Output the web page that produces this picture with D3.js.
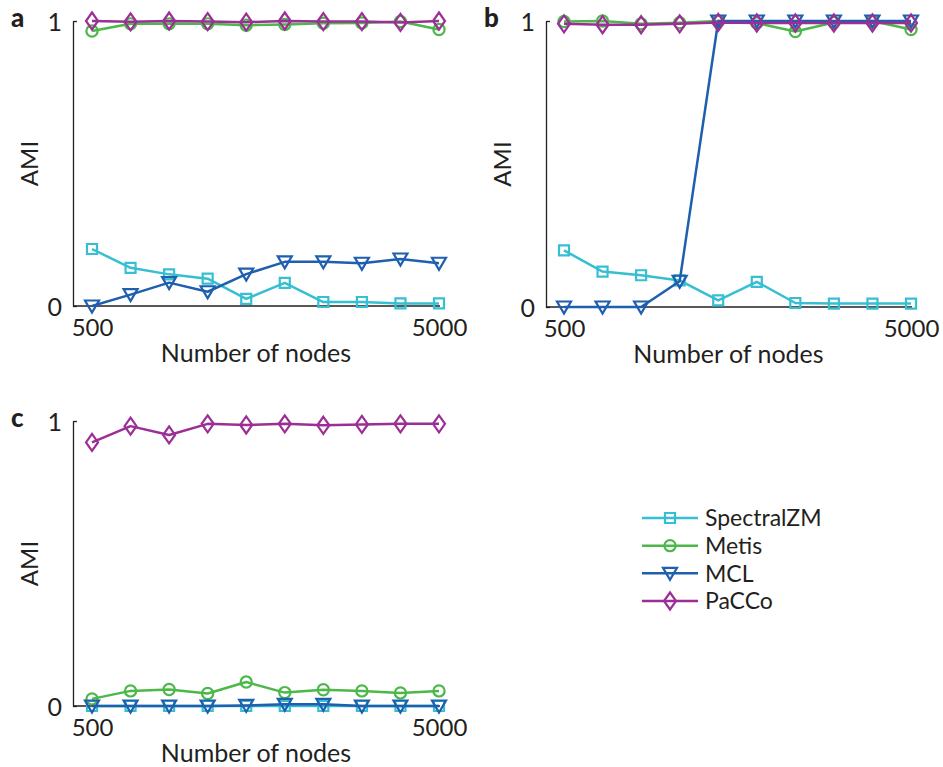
<!DOCTYPE html>
<html>
<head>
<meta charset="utf-8">
<script src="https://cdn.jsdelivr.net/npm/d3@7"></script>
<style>
  html, body { margin: 0; padding: 0; background: #fff; }
  svg text { font-family: Lato, "Open Sans", sans-serif; fill: #231f20; }
</style>
</head>
<body>
<svg id="chart" width="943" height="767"></svg>
<script>
// Network sizes on the x axis
const nodes = [500, 1000, 1500, 2000, 2500, 3000, 3500, 4000, 4500, 5000];
const methods = ["SpectralZM", "Metis", "MCL", "PaCCo"];
const colors = ["#36bfd3", "#4cb849", "#1e5fae", "#9b2f95"];
const symbols = ["square", "circle", "triangleDown", "diamond"];
const yTickLabels = ["0", "1"];
const xTickLabels = ["500", "5000"];

// Panel a
const aSpectral = [0.20, 0.134, 0.111, 0.096, 0.025, 0.081, 0.014, 0.014, 0.009, 0.009];
const aMetis    = [0.965, 0.99, 0.99, 0.99, 0.985, 0.988, 0.992, 0.993, 0.998, 0.97];
const aMCL      = [0.0, 0.04, 0.082, 0.05, 0.112, 0.155, 0.155, 0.15, 0.165, 0.15];
const aPaCCo    = [1.0, 0.997, 1.0, 0.998, 0.996, 1.0, 0.998, 0.998, 0.995, 1.0];

// Panel b
const bSpectral = [0.198, 0.124, 0.111, 0.093, 0.023, 0.088, 0.014, 0.012, 0.012, 0.012];
const bMetis    = [0.998, 1.0, 0.99, 0.994, 1.0, 0.993, 0.963, 0.995, 1.0, 0.97];
const bMCL      = [0.0, 0.0, 0.0, 0.09, 1.0, 1.0, 1.0, 1.0, 1.0, 1.0];
const bPaCCo    = [0.99, 0.987, 0.987, 0.99, 0.995, 0.993, 0.993, 0.993, 0.993, 0.993];

// Panel c
const cSpectral = [0.0, 0.0, 0.0, 0.0, 0.0, 0.0, 0.0, 0.0, 0.0, 0.0];
const cMetis    = [0.025, 0.053, 0.058, 0.044, 0.084, 0.047, 0.057, 0.053, 0.046, 0.053];
const cMCL      = [0.0, 0.0, 0.0, 0.0, 0.002, 0.006, 0.006, 0.0, 0.0, 0.0];
const cPaCCo    = [0.925, 0.982, 0.951, 0.99, 0.986, 0.99, 0.985, 0.988, 0.99, 0.99];

const panels = [
  { letter: "a", left: 73, x0: 92, x1: 439, top: 21, bottom: 306, series: [aSpectral, aMetis, aMCL, aPaCCo] },
  { letter: "b", left: 546, x0: 564, x1: 911, top: 21, bottom: 307, series: [bSpectral, bMetis, bMCL, bPaCCo] },
  { letter: "c", left: 73, x0: 92, x1: 439, top: 421, bottom: 706, series: [cSpectral, cMetis, cMCL, cPaCCo] }
];

const svg = d3.select("#chart");

// Marker path generators, sized in pixels
function markerPath(kind) {
  switch (kind) {
    case "square": return "M-5,-5H5V5H-5Z";
    case "circle": return d3.symbol(d3.symbolCircle, Math.PI * 5.6 * 5.6)();
    case "triangleDown": return "M-7,-5.5H7L0,6.5Z";
    case "diamond": return "M0,-8.5L6,0L0,8.5L-6,0Z";
  }
}

function drawMarkers(g, pts, kind, color) {
  g.selectAll(null).data(pts).join("path")
    .attr("d", markerPath(kind))
    .attr("transform", d => `translate(${d[0]},${d[1]})`)
    .attr("fill", "none")
    .attr("stroke", color)
    .attr("stroke-width", 2.2);
}

panels.forEach(p => {
  const x = d3.scaleLinear().domain([500, 5000]).range([p.x0, p.x1]);
  const y = d3.scaleLinear().domain([0, 1]).range([p.bottom, p.top]);
  const g = svg.append("g");

  // y axis: plain line with short inward ticks
  const yAxis = d3.axisLeft(y).tickValues([0, 1]).tickSizeInner(-4).tickSizeOuter(0)
    .tickPadding(11).tickFormat((d, i) => yTickLabels[i]);
  const ya = g.append("g").attr("transform", `translate(${p.left},0)`).call(yAxis);
  ya.select(".domain").attr("stroke", "#231f20").attr("stroke-width", 1.3);
  ya.selectAll(".tick line").attr("stroke", "#231f20").attr("stroke-width", 1.3);
  ya.selectAll(".tick text").attr("font-size", 25).attr("font-family", null).attr("dy", "0.36em");

  // x baseline
  g.append("line")
    .attr("x1", p.left).attr("x2", x(5000) + 1)
    .attr("y1", y(0)).attr("y2", y(0))
    .attr("stroke", "#231f20").attr("stroke-width", 1.3);

  // x tick labels
  const xAxis = d3.axisBottom(x).tickValues([500, 5000]).tickSize(0).tickPadding(13)
    .tickFormat((d, i) => xTickLabels[i]);
  const xa = g.append("g").attr("transform", `translate(0,${p.bottom})`).call(xAxis);
  xa.select(".domain").remove();
  xa.selectAll(".tick text").attr("font-size", 24).attr("font-family", null);

  // axis titles
  g.append("text")
    .attr("x", (p.left + x(5000)) / 2).attr("y", p.bottom + 56)
    .attr("text-anchor", "middle").attr("font-size", 25)
    .text("Number of nodes");
  g.append("text")
    .attr("transform", `translate(${p.left - 35},${(p.top + p.bottom) / 2}) rotate(-90)`)
    .attr("text-anchor", "middle").attr("font-size", 24)
    .text("AMI");

  // panel letter
  g.append("text")
    .attr("x", p.left - 62).attr("y", p.top + 6)
    .attr("font-size", 26).attr("font-weight", 900)
    .text(p.letter);

  // series lines and markers
  const line = d3.line().x((d, i) => x(nodes[i])).y(d => y(d));
  p.series.forEach((vals, si) => {
    const sg = g.append("g");
    sg.append("path").datum(vals)
      .attr("d", line)
      .attr("fill", "none")
      .attr("stroke", colors[si])
      .attr("stroke-width", 2.5)
      .attr("stroke-linejoin", "round");
    const pts = vals.map((v, i) => [x(nodes[i]), y(v)]);
    drawMarkers(sg, pts, symbols[si], colors[si]);
  });
});

// legend
const legend = svg.append("g");
const legendY = d3.scalePoint().domain(methods).range([518, 601]);
methods.forEach((m, i) => {
  const ly = legendY(m);
  legend.append("line")
    .attr("x1", 642).attr("x2", 698).attr("y1", ly).attr("y2", ly)
    .attr("stroke", colors[i]).attr("stroke-width", 2.5);
  drawMarkers(legend, [[670, ly]], symbols[i], colors[i]);
  legend.append("text")
    .attr("x", 705).attr("y", ly).attr("dy", "0.36em")
    .attr("font-size", 23)
    .text(m);
});
</script>
</body>
</html>
